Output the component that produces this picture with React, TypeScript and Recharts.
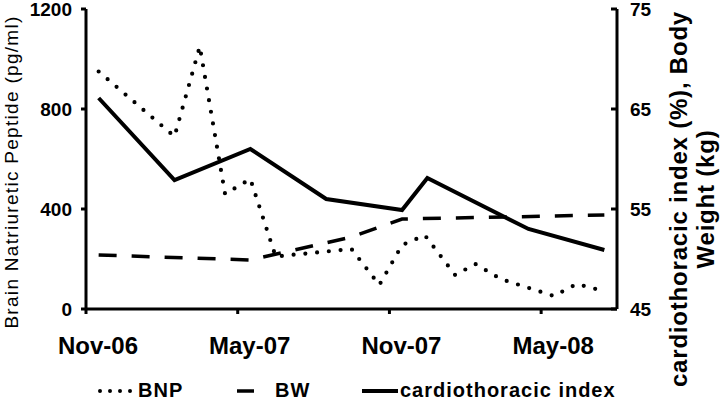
import React from "react";
import { LineChart, Line, XAxis, YAxis, Legend } from "recharts";

// months counted from Nov-06
const monthTicks = [0, 6, 12, 18];
const monthLabels = ["Nov-06", "May-07", "Nov-07", "May-08"];

const bnpMonths = [0.5, 3.5, 4.5, 5.5, 6.5, 7.5, 10.5, 11.6, 12.5, 13.4, 14.6, 15.4, 16.4, 18.5, 19.4, 20.4];
const bnpValues = [950, 690, 1050, 460, 520, 210, 240, 96, 256, 295, 136, 180, 120, 52, 100, 74];

const bwMonths = [0.5, 6.5, 10.5, 12.5, 20.5];
const bwValues = [50.4, 49.9, 52.2, 54.0, 54.4];

const ctiMonths = [0.5, 3.5, 6.5, 9.5, 12.5, 13.5, 17.5, 20.5];
const ctiValues = [66.1, 57.9, 61.0, 56.0, 54.9, 58.1, 53.0, 50.9];

const leftTicks = [0, 400, 800, 1200];
const rightTicks = [45, 55, 65, 75];

const seriesNames = ["BNP", "BW", "cardiothoracic index"];

const font = "'Liberation Sans', Arial, sans-serif";

const toRows = (ms: number[], vs: number[]) => ms.map((m, i) => ({ m, v: vs[i] }));
const bnpData = toRows(bnpMonths, bnpValues);
const bwData = toRows(bwMonths, bwValues);
const ctiData = toRows(ctiMonths, ctiValues);

const XTick = (props: any) => {
  const { x, y, payload } = props;
  const i = monthTicks.indexOf(payload.value);
  return (
    <text x={x + 12} y={y + 38} textAnchor="middle" fontFamily={font} fontSize={24} fontWeight="bold" fill="#000">
      {monthLabels[i]}
    </text>
  );
};

const LeftTick = (props: any) => {
  const { x, y, payload } = props;
  return (
    <text x={x - 9} y={y} dy="0.36em" textAnchor="end" fontFamily={font} fontSize={19} fontWeight="bold" fill="#000">
      {payload.value}
    </text>
  );
};

const RightTick = (props: any) => {
  const { x, y, payload } = props;
  return (
    <g>
      <line x1={x - 6} x2={x} y1={y} y2={y} stroke="#000" strokeWidth={3} />
      <text x={x + 13} y={y} dy="0.36em" textAnchor="start" fontFamily={font} fontSize={19} fontWeight="bold" fill="#000">
        {payload.value}
      </text>
    </g>
  );
};

const LeftTitle = (props: any) => {
  const vb = props.viewBox;
  const cx = 11;
  const cy = vb.y + vb.height / 2 + 13;
  return (
    <text
      x={cx}
      y={cy}
      dy="0.35em"
      transform={`rotate(-90, ${cx}, ${cy})`}
      textAnchor="middle"
      fontFamily={font}
      fontSize={19}
      letterSpacing={1.3}
      fill="#000"
    >
      Brain Natriuretic Peptide (pg/ml)
    </text>
  );
};

const RightTitle = (props: any) => {
  const vb = props.viewBox;
  const cx = vb.x + 62;
  const cy = 199;
  return (
    <text
      x={cx}
      y={cy}
      transform={`rotate(-90, ${cx}, ${cy})`}
      textAnchor="middle"
      fontFamily={font}
      fontSize={24}
      fontWeight="bold"
      letterSpacing={0.8}
      fill="#000"
    >
      <tspan x={cx} dy="0.35em">cardiothoracic index (%), Body</tspan>
      <tspan x={cx} dy={27}>Weight (kg)</tspan>
    </text>
  );
};

const LegendContent = (props: any) => {
  const payload = props.payload || [];
  const name = (i: number) => (payload[i] ? payload[i].value : seriesNames[i]);
  const ty = 28;
  const ly = 22;
  const textProps = { fontFamily: font, fontSize: 20, fontWeight: "bold" as const, letterSpacing: 1, fill: "#000" };
  return (
    <svg width={720} height={33} style={{ display: "block", overflow: "visible" }}>
      <line x1={100} x2={131} y1={ly} y2={ly} stroke="#000" strokeWidth={4} strokeDasharray="0 10" strokeLinecap="round" />
      <text x={138} y={ty} {...textProps}>{name(0)}</text>
      <line x1={237} x2={254} y1={ly} y2={ly} stroke="#000" strokeWidth={3.5} />
      <text x={275} y={ty} {...textProps}>{name(1)}</text>
      <line x1={362} x2={398} y1={ly} y2={ly} stroke="#000" strokeWidth={4} />
      <text x={400} y={ty} {...textProps}>{name(2)}</text>
    </svg>
  );
};

export default function App() {
  return (
    <div style={{ position: "absolute", left: 0, top: 0, width: 720, height: 402, background: "#fff" }}>
      <LineChart width={720} height={402} margin={{ top: 9, right: 0, left: 0, bottom: 0 }}>
        <XAxis
          dataKey="m"
          type="number"
          domain={[0, 21]}
          ticks={monthTicks}
          height={60}
          axisLine={{ stroke: "#000", strokeWidth: 3 }}
          tickLine={{ stroke: "#000", strokeWidth: 3 }}
          tickSize={5}
          tick={<XTick />}
          allowDataOverflow
        />
        <YAxis
          yAxisId="left"
          domain={[0, 1200]}
          ticks={leftTicks}
          width={86}
          axisLine={{ stroke: "#000", strokeWidth: 3 }}
          tickLine={{ stroke: "#000", strokeWidth: 3 }}
          tickSize={5}
          tickMargin={0}
          tick={<LeftTick />}
          label={<LeftTitle />}
        />
        <YAxis
          yAxisId="right"
          orientation="right"
          domain={[45, 75]}
          ticks={rightTicks}
          width={103}
          axisLine={{ stroke: "#000", strokeWidth: 3 }}
          tickLine={false}
          tickSize={0}
          tickMargin={0}
          tick={<RightTick />}
          label={<RightTitle />}
        />
        <Line
          yAxisId="left"
          data={bnpData}
          dataKey="v"
          name={seriesNames[0]}
          type="linear"
          stroke="#000"
          strokeWidth={4.2}
          strokeDasharray="0 11.8"
          strokeLinecap="round"
          dot={false}
          activeDot={false}
          isAnimationActive={false}
        />
        <Line
          yAxisId="right"
          data={bwData}
          dataKey="v"
          name={seriesNames[1]}
          type="linear"
          stroke="#000"
          strokeWidth={3.5}
          strokeDasharray="18 15"
          dot={false}
          activeDot={false}
          isAnimationActive={false}
        />
        <Line
          yAxisId="right"
          data={ctiData}
          dataKey="v"
          name={seriesNames[2]}
          type="linear"
          stroke="#000"
          strokeWidth={4}
          dot={false}
          activeDot={false}
          isAnimationActive={false}
        />
        <Legend
          verticalAlign="bottom"
          height={33}
          content={<LegendContent />}
          wrapperStyle={{ left: 0, width: 720, height: 33, bottom: 0 }}
        />
      </LineChart>
    </div>
  );
}
